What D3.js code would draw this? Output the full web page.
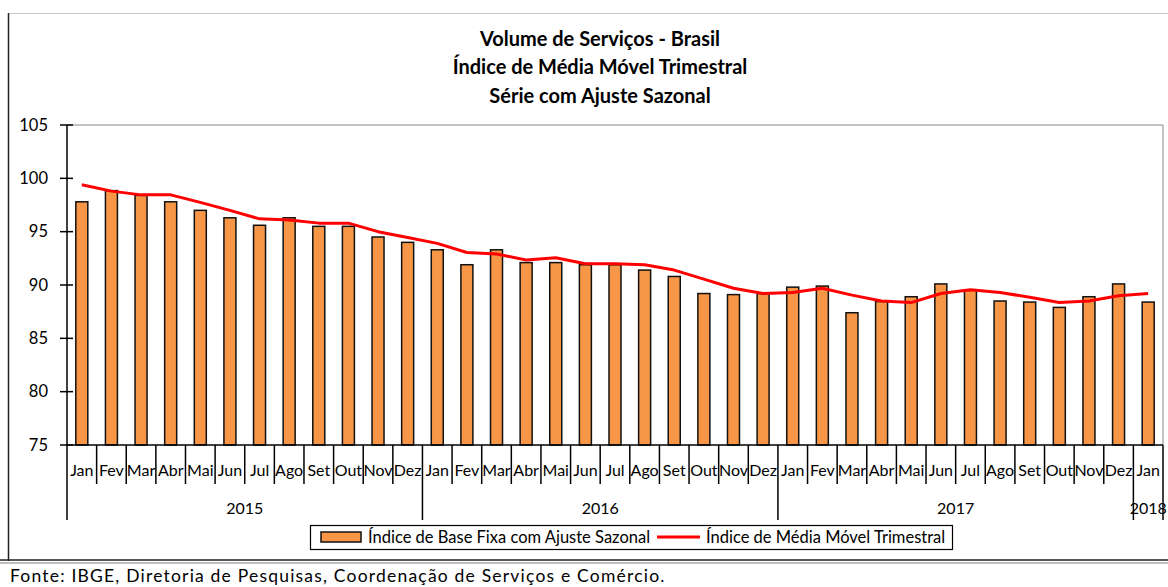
<!DOCTYPE html>
<html><head><meta charset="utf-8">
<script src="https://cdn.jsdelivr.net/npm/d3@7"></script>
<style>
html,body{margin:0;padding:0;background:#fff;}
svg{display:block;font-family:Lato,"Open Sans",sans-serif;}
</style></head>
<body>
<svg id="c" width="1168" height="587"></svg>
<script>
const monthNames = ["Jan","Fev","Mar","Abr","Mai","Jun","Jul","Ago","Set","Out","Nov","Dez"];
const years = ["2015","2016","2017","2018"];
const monthsPerYear = [12,12,12,1];
const barValues = [
  97.8, 98.85, 98.4, 97.8, 97.0, 96.3, 95.6, 96.3, 95.5, 95.5, 94.5, 94.0,
  93.3, 91.9, 93.3, 92.1, 92.1, 91.9, 91.9, 91.4, 90.8, 89.2, 89.1, 89.2,
  89.8, 89.9, 87.4, 88.45, 88.9, 90.1, 89.5, 88.5, 88.4, 87.9, 88.9, 90.1,
  88.4
];
const lineValues = [
  99.4, 98.8, 98.45, 98.45, 97.75, 97.0, 96.2, 96.1, 95.8, 95.8, 95.0, 94.45,
  93.9, 93.05, 92.9, 92.35, 92.55, 92.0, 92.0, 91.9, 91.4, 90.55, 89.7, 89.2,
  89.3, 89.7, 89.05, 88.5, 88.35, 89.2, 89.55, 89.3, 88.85, 88.35, 88.5, 89.0,
  89.2
];
const yTicks = [75,80,85,90,95,100,105];
const titleLines = ["Volume de Serviços - Brasil","Índice de Média Móvel Trimestral","Série com Ajuste Sazonal"];
const legendLabels = ["Índice de Base Fixa com Ajuste Sazonal","Índice de Média Móvel Trimestral"];
const footer = "Fonte: IBGE, Diretoria de Pesquisas, Coordenação de Serviços e Comércio.";

// build category list
const cats = [];
years.forEach((y,yi)=>{ for(let m=0;m<monthsPerYear[yi];m++) cats.push({key:y+"-"+m, month:monthNames[m], year:y}); });

const svg = d3.select("#c");
const L=67, R=1163, T=125, B=445;
const x = d3.scaleBand().domain(cats.map(d=>d.key)).range([L,R]).padding(0);
const y = d3.scaleLinear().domain([75,105]).range([B,T]);
const bw = x.bandwidth();

// outer frame
svg.append("line").attr("x1",8).attr("x2",1168).attr("y1",13.5).attr("y2",13.5).attr("stroke","#c8c8c8").attr("stroke-width",1);
svg.append("line").attr("x1",8.5).attr("x2",8.5).attr("y1",13).attr("y2",561).attr("stroke","#222").attr("stroke-width",1.5);
svg.append("line").attr("x1",0).attr("x2",1168).attr("y1",560).attr("y2",560).attr("stroke","#222").attr("stroke-width",1.5);
svg.append("line").attr("x1",0).attr("x2",1168).attr("y1",563).attr("y2",563).attr("stroke","#aaa").attr("stroke-width",1.5);

// title
svg.append("g").selectAll("text").data(titleLines).join("text")
  .attr("x",600).attr("y",(d,i)=>46+i*28.3).attr("text-anchor","middle")
  .attr("font-weight","bold").attr("font-size",20).attr("fill","#000").text(d=>d);

// plot border (top/right gray)
svg.append("line").attr("x1",L).attr("x2",R).attr("y1",T).attr("y2",T).attr("stroke","#888").attr("stroke-width",1);
svg.append("line").attr("x1",R).attr("x2",R).attr("y1",T).attr("y2",B).attr("stroke","#888").attr("stroke-width",1);

// bars
svg.append("g").selectAll("rect").data(barValues).join("rect")
  .attr("x",(d,i)=>x(cats[i].key)+bw/2-6)
  .attr("width",12)
  .attr("y",d=>y(d)).attr("height",d=>B-y(d))
  .attr("fill","#F79646").attr("stroke","#111").attr("stroke-width",1.5);

// line
const line = d3.line().x((d,i)=>x(cats[i].key)+bw/2).y(d=>y(d));
svg.append("path").datum(lineValues).attr("d",line)
  .attr("fill","none").attr("stroke","#FF0000").attr("stroke-width",3).attr("stroke-linejoin","round");

// y axis
const yAxis = d3.axisLeft(y).tickValues(yTicks).tickSize(0).tickPadding(19);
const gy = svg.append("g").attr("transform",`translate(${L},0)`).call(yAxis);
gy.select(".domain").remove();
gy.selectAll("text").attr("font-size",16.5).attr("fill","#000").attr("font-family","Lato,'Open Sans',sans-serif");
svg.append("line").attr("x1",L).attr("x2",L).attr("y1",T).attr("y2",B).attr("stroke","#000").attr("stroke-width",1.5);
svg.append("g").selectAll("line").data(yTicks).join("line")
  .attr("x1",L-7).attr("x2",L+6).attr("y1",d=>y(d)).attr("y2",d=>y(d)).attr("stroke","#000").attr("stroke-width",1.5);

// x axis baseline
svg.append("line").attr("x1",L).attr("x2",R).attr("y1",B).attr("y2",B).attr("stroke","#000").attr("stroke-width",1.5);
// month ticks
const bounds = cats.map(d=>x(d.key)).concat([R]);
const yearStarts = new Set();
let acc=0; monthsPerYear.forEach(n=>{yearStarts.add(acc); acc+=n;}); yearStarts.add(acc);
svg.append("g").selectAll("line").data(bounds).join("line")
  .attr("x1",d=>d).attr("x2",d=>d).attr("y1",B)
  .attr("y2",(d,i)=>yearStarts.has(i)?520:484)
  .attr("stroke","#000").attr("stroke-width",1.5);
// month labels
svg.append("g").selectAll("text").data(cats).join("text")
  .attr("x",d=>x(d.key)+bw/2).attr("y",476).attr("text-anchor","middle")
  .attr("font-size",16).attr("fill","#000").text(d=>d.month);
// year labels
let start=0;
const yearPos = years.map((yr,i)=>{ const s=bounds[start], e=bounds[start+monthsPerYear[i]]; start+=monthsPerYear[i]; return {yr, cx:(s+e)/2}; });
svg.append("g").selectAll("text").data(yearPos).join("text")
  .attr("x",d=>d.cx).attr("y",514).attr("text-anchor","middle")
  .attr("font-size",16).attr("fill","#000").text(d=>d.yr);

// legend
const lg = svg.append("g");
lg.append("rect").attr("x",310.5).attr("y",525.5).attr("width",642).attr("height",24).attr("fill","#fff").attr("stroke","#000").attr("stroke-width",1.2);
lg.append("rect").attr("x",321).attr("y",532).attr("width",40).attr("height",10).attr("fill","#F79646").attr("stroke","#111").attr("stroke-width",1.5);
lg.append("text").attr("x",368).attr("y",543).attr("font-size",16.5).attr("fill","#000").text(legendLabels[0]);
lg.append("line").attr("x1",657).attr("x2",700).attr("y1",537).attr("y2",537).attr("stroke","#FF0000").attr("stroke-width",3);
lg.append("text").attr("x",706).attr("y",543).attr("font-size",16.5).attr("fill","#000").text(legendLabels[1]);

// footer
svg.append("text").attr("x",10).attr("y",582).attr("font-size",17.5).attr("letter-spacing",1.2).attr("fill","#000").text(footer);
</script>
</body></html>
